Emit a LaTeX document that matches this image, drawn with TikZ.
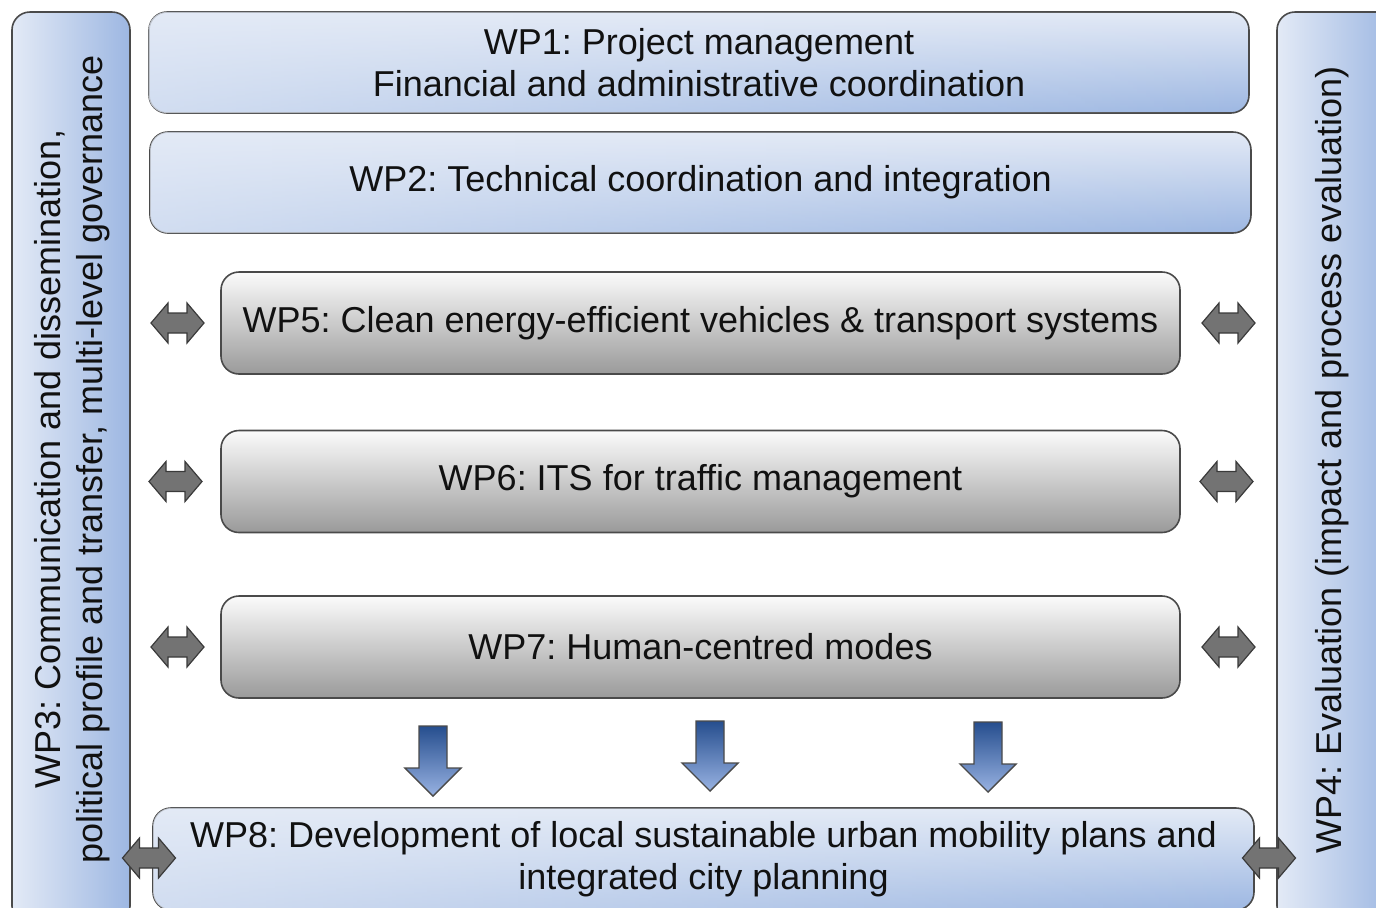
\documentclass[tikz,border=0pt]{standalone}
\usepackage{fontspec}
\setmainfont{Liberation Sans}
\frenchspacing
\usetikzlibrary{calc,fadings}
\definecolor{bord}{HTML}{4A4A4A}
\definecolor{blA}{HTML}{E3EAF6}
\definecolor{blB}{HTML}{9DB7E2}
\definecolor{grA}{HTML}{FBFBFB}
\definecolor{grM}{HTML}{D8D8D8}
\definecolor{grB}{HTML}{9A9A9A}
\definecolor{dblfill}{HTML}{737373}
\definecolor{dbldraw}{HTML}{3A3A3A}
\definecolor{daA}{HTML}{264E8E}
\definecolor{daM}{HTML}{C8D6F0}
\definecolor{daB}{HTML}{98B2E2}
\definecolor{txt}{HTML}{111111}
\begin{document}
\begin{tikzpicture}[x=0.5pt,y=-0.5pt,
  every node/.style={inner sep=0pt, outer sep=0pt},
  wpfont/.style={font=\fontsize{18}{21}\selectfont, text=txt, align=center},
  bluebox/.style={draw=bord, line width=0.8pt, rounded corners=9pt,
    top color=blA, bottom color=blB, wpfont,
    postaction={fill=blA, path fading=east, fill opacity=0.75}},
  sidebar/.style={draw=bord, line width=0.8pt, rounded corners=9pt,
    left color=blA, right color=blB, minimum width=59pt, minimum height=456pt},
  greybox/.style={draw=bord, line width=0.8pt, rounded corners=9pt,
    top color=grA, middle color=grM, bottom color=grB, wpfont,
    minimum width=479.5pt, minimum height=51pt},
  dbl/.style={fill=dblfill, draw=dbldraw, line width=0.6pt, line join=miter},
  dblarrow/.pic={\draw[dbl] (-26.5,0) -- (-9.5,-20) -- (-9.5,-10) -- (9.5,-10) -- (9.5,-20) -- (26.5,0) -- (9.5,20) -- (9.5,10) -- (-9.5,10) -- (-9.5,20) -- cycle;},
  downarrow/.pic={\path[draw=bord, line width=0.7pt, top color=daA, middle color=daM, bottom color=daB]
     (-14,0) -- (14,0) -- (14,42) -- (28,42) -- (0,70) -- (-28,42) -- (-14,42) -- cycle;}
]
\useasboundingbox (0,0) rectangle (1376,907);
\clip (0,0) rectangle (1376,907);

% side bars
\node[sidebar] (wp3) at (71,468) {};
\node[sidebar] (wp4) at (1336,468) {};
\node[wpfont, rotate=90] (wp3t) at (72,459) {WP3: Communication and dissemination,\\political profile and transfer, multi-level governance};
\node[wpfont, rotate=90] (wp4t) at (1332,460) {WP4: Evaluation (impact and process evaluation)};

% top boxes
\node[bluebox, minimum width=550pt, minimum height=50.5pt] (wp1) at (699,62.5) {WP1: Project management\\Financial and administrative coordination};
\node[bluebox, minimum width=550.5pt, minimum height=50.5pt] (wp2) at (700.5,182.5) {WP2: Technical coordination and integration};

% grey boxes
\node[greybox] (wp5) at (700.5,323) {WP5: Clean energy-efficient vehicles \& transport systems};
\node[greybox] (wp6) at (700.5,481.5) {WP6: ITS for traffic management};
\node[greybox] (wp7) at (700.5,647) {WP7: Human-centred modes};

% bottom box
\node[bluebox, minimum width=550.5pt, minimum height=51pt] (wp8) at (703.5,859) {WP8: Development of local sustainable urban mobility plans and\\integrated city planning};

% double arrows
\pic at ($(wp3.east|-wp5)!0.5!(wp5.west)+(2,0)$) {dblarrow};
\pic at ($(wp3.east|-wp6)!0.5!(wp6.west)$) {dblarrow};
\pic at ($(wp3.east|-wp7)!0.5!(wp7.west)+(2,0)$) {dblarrow};
\pic at ($(wp5.east)!0.5!(wp4.west|-wp5)$) {dblarrow};
\pic at ($(wp6.east)!0.5!(wp4.west|-wp6)+(-2,0)$) {dblarrow};
\pic at ($(wp7.east)!0.5!(wp4.west|-wp7)$) {dblarrow};
\pic at ($(wp8.west)+(-4,-1)$) {dblarrow};
\pic at ($(wp8.east)+(15,-1)$) {dblarrow};

% down arrows
\pic at (433,726) {downarrow};
\pic at (710,721) {downarrow};
\pic at (988,722) {downarrow};
\end{tikzpicture}
\end{document}
